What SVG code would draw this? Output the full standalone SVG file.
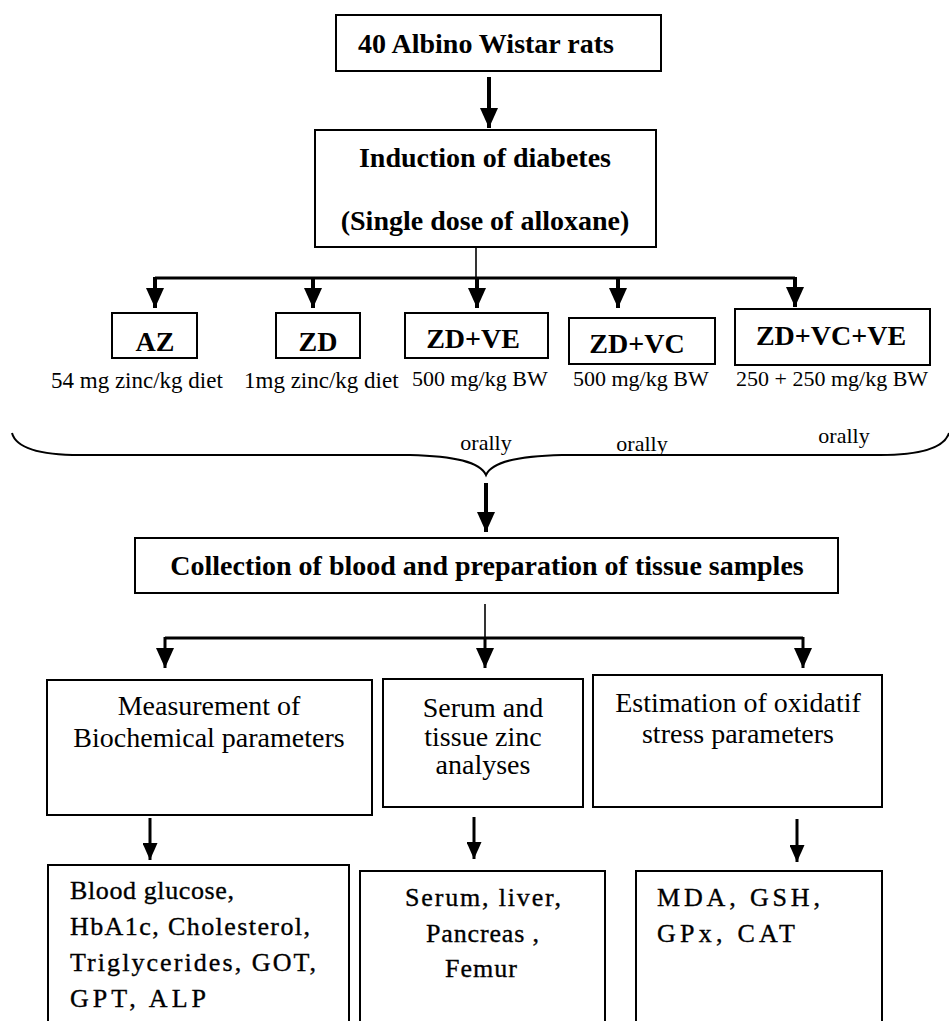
<svg xmlns="http://www.w3.org/2000/svg" width="949" height="1021" viewBox="0 0 949 1021">
<style>
  text { font-family: "Liberation Serif", "Tinos", "DejaVu Serif", "Noto Serif", serif; fill: #000; }
  .box { fill: #fff; stroke: #000; stroke-width: 2; }
  .b { font-weight: bold; font-size: 28px; }
  .r { font-size: 28px; }
  .s { font-size: 22px; }
  .s23 { font-size: 23px; }
  .t { font-size: 26px; stroke: #000; stroke-width: 0.35; }
  .mid { text-anchor: middle; }
  .thin { stroke: #000; stroke-width: 1.6; fill: none; }
  .bar { stroke: #000; stroke-width: 3; fill: none; }
  .shaft { stroke: #000; stroke-width: 4; fill: none; }
  .shaft3 { stroke: #000; stroke-width: 3; fill: none; }
  .brace { stroke: #000; stroke-width: 2; fill: none; }
</style>
<defs>
  <marker id="ah" viewBox="0 0 20 18" refX="20" refY="9" markerWidth="20" markerHeight="18" orient="auto" markerUnits="userSpaceOnUse">
    <path d="M0,0 L20,9 L0,18 z" fill="#000"/>
  </marker>
  <marker id="ahs" viewBox="0 0 17 15" refX="17" refY="7.5" markerWidth="17" markerHeight="15" orient="auto" markerUnits="userSpaceOnUse">
    <path d="M0,0 L17,7.5 L0,15 z" fill="#000"/>
  </marker>
</defs>
<rect width="949" height="1021" fill="#fff"/>

<g id="connectors">
  <line class="shaft" x1="489" y1="77" x2="489" y2="128" marker-end="url(#ah)"/>
  <line class="thin" x1="476" y1="247" x2="476" y2="278"/>
  <line class="bar" x1="155" y1="278" x2="795" y2="278"/>
  <line class="shaft" x1="155" y1="277" x2="155" y2="308" marker-end="url(#ah)"/>
  <line class="shaft" x1="313" y1="277" x2="313" y2="308" marker-end="url(#ah)"/>
  <line class="shaft" x1="477" y1="277" x2="477" y2="308" marker-end="url(#ah)"/>
  <line class="shaft" x1="618" y1="277" x2="618" y2="308" marker-end="url(#ah)"/>
  <line class="shaft" x1="795" y1="277" x2="795" y2="307" marker-end="url(#ah)"/>
  <path class="brace" d="M12,433 C16,448 40,455 80,455 L410,455 C455,456 480,462 486,475 C492,462 517,456 562,455 L880,455 C920,455 944,448 949,433"/>
  <line class="shaft" x1="486" y1="483" x2="486" y2="532" marker-end="url(#ah)"/>
  <line class="thin" x1="485" y1="604" x2="485" y2="638"/>
  <line class="bar" x1="165" y1="638" x2="803" y2="638"/>
  <line class="shaft3" x1="165" y1="637" x2="165" y2="668" marker-end="url(#ah)"/>
  <line class="shaft3" x1="485" y1="637" x2="485" y2="668" marker-end="url(#ah)"/>
  <line class="shaft3" x1="803" y1="637" x2="803" y2="668" marker-end="url(#ah)"/>
  <line class="shaft3" x1="150" y1="818" x2="150" y2="860" marker-end="url(#ahs)"/>
  <line class="shaft3" x1="474" y1="817" x2="474" y2="859" marker-end="url(#ahs)"/>
  <line class="shaft3" x1="797" y1="819" x2="797" y2="862" marker-end="url(#ahs)"/>
</g>

<g id="n-rats">
  <rect class="box" x="336" y="15" width="325" height="56"/>
  <text class="b" x="358" y="53">40 Albino Wistar rats</text>
</g>

<g id="n-induction">
  <rect class="box" x="315" y="130" width="341" height="117"/>
  <text class="b mid" x="485" y="167">Induction of diabetes</text>
  <text class="b mid" x="485" y="230">(Single dose of alloxane)</text>
</g>

<g id="n-az">
  <rect class="box" x="112" y="313" width="85" height="45"/>
  <text class="b mid" x="155" y="351">AZ</text>
  <text class="s23" x="51" y="388">54 mg zinc/kg diet</text>
</g>

<g id="n-zd">
  <rect class="box" x="276" y="313" width="84" height="45"/>
  <text class="b mid" x="318" y="351">ZD</text>
  <text class="s23" x="244" y="388">1mg zinc/kg diet</text>
</g>

<g id="n-zdve">
  <rect class="box" x="405" y="313" width="143" height="45"/>
  <text class="b mid" x="473" y="348">ZD+VE</text>
  <text class="s" x="412" y="386">500 mg/kg BW</text>
  <text class="s mid" x="486" y="450">orally</text>
</g>

<g id="n-zdvc">
  <rect class="box" x="569" y="318" width="146" height="46"/>
  <text class="b mid" x="637" y="353">ZD+VC</text>
  <text class="s" x="573" y="386">500 mg/kg BW</text>
  <text class="s mid" x="642" y="451">orally</text>
</g>

<g id="n-zdvcve">
  <rect class="box" x="735" y="309" width="195" height="56"/>
  <text class="b mid" x="831" y="345">ZD+VC+VE</text>
  <text class="s" x="736" y="386">250 + 250 mg/kg BW</text>
  <text class="s mid" x="844" y="443">orally</text>
</g>

<g id="n-collection">
  <rect class="box" x="135" y="538" width="703" height="55"/>
  <text class="b mid" x="487" y="575">Collection of blood and preparation of tissue samples</text>
</g>

<g id="n-measurement">
  <rect class="box" x="47" y="680" width="325" height="135"/>
  <text class="r mid" x="209" y="715">Measurement of</text>
  <text class="r mid" x="209" y="747">Biochemical parameters</text>
</g>

<g id="n-zinc">
  <rect class="box" x="383" y="679" width="200" height="128"/>
  <text class="r mid" x="483" y="717">Serum and</text>
  <text class="r mid" x="483" y="746">tissue zinc</text>
  <text class="r mid" x="483" y="774">analyses</text>
</g>

<g id="n-oxidative">
  <rect class="box" x="593" y="675" width="289" height="132"/>
  <text class="r mid" x="738" y="712">Estimation of oxidatif</text>
  <text class="r mid" x="738" y="743">stress parameters</text>
</g>

<g id="n-biochem-results">
  <rect class="box" x="48" y="865" width="301" height="180"/>
  <text class="t" x="70" y="899" textLength="164" lengthAdjust="spacing">Blood glucose,</text>
  <text class="t" x="70" y="935" textLength="240" lengthAdjust="spacing">HbA1c, Cholesterol,</text>
  <text class="t" x="70" y="971" textLength="246" lengthAdjust="spacing">Triglycerides, GOT,</text>
  <text class="t" x="70" y="1007" textLength="136" lengthAdjust="spacing">GPT, ALP</text>
</g>

<g id="n-zinc-results">
  <rect class="box" x="360" y="871" width="245" height="180"/>
  <text class="t" x="405" y="906" textLength="156" lengthAdjust="spacing">Serum, liver,</text>
  <text class="t" x="426" y="942" textLength="113" lengthAdjust="spacing">Pancreas ,</text>
  <text class="t" x="445" y="977" textLength="72" lengthAdjust="spacing">Femur</text>
</g>

<g id="n-oxidative-results">
  <rect class="box" x="636" y="871" width="246" height="180"/>
  <text class="t" x="657" y="906" textLength="163" lengthAdjust="spacing">MDA, GSH,</text>
  <text class="t" x="657" y="942" textLength="138" lengthAdjust="spacing">GPx, CAT</text>
</g>
</svg>
